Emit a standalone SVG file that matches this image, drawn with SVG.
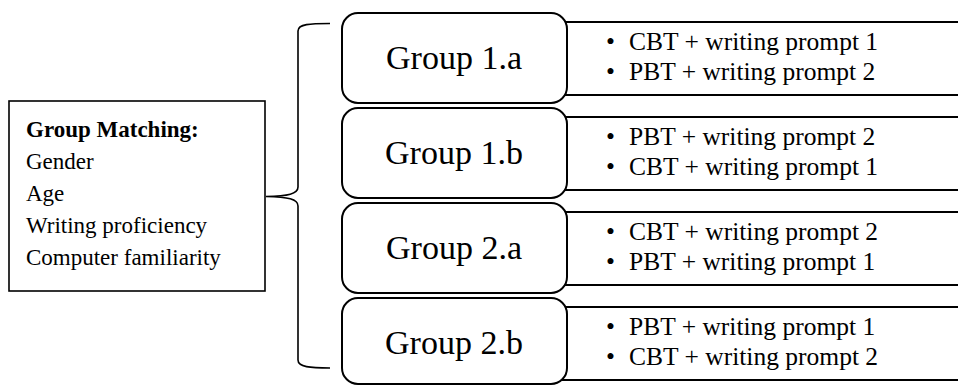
<svg xmlns="http://www.w3.org/2000/svg" width="958" height="385" viewBox="0 0 958 385">
<style>
.box{fill:#fff;stroke:#000;stroke-width:1.6}
.grp{fill:#fff;stroke:#000;stroke-width:2}
.row{fill:#fff;stroke:#000;stroke-width:2}
.brace{fill:none;stroke:#000;stroke-width:1.6}
text{font-family:"Liberation Serif","Times New Roman",serif;fill:#000}
.gl{font-size:34px;text-anchor:middle}
.bl{font-size:25.5px}
.ml{font-size:23px}
.mb{font-size:23px;font-weight:bold}
</style>
<rect width="958" height="385" fill="#fff"/>
<g id="matching">
<rect class="box" x="9" y="101" width="256" height="190"/>
<text class="mb" x="26" y="137">Group Matching:</text>
<text class="ml" x="26" y="169">Gender</text>
<text class="ml" x="26" y="201">Age</text>
<text class="ml" x="26" y="233">Writing proficiency</text>
<text class="ml" x="26" y="265">Computer familiarity</text>
</g>
<g id="connectors">
<path class="brace" d="M330,23.5 C310,23.5 298,24 298,31 L298,187 C298,194 288,196 266,196.5 C288,197 298,199 298,206 L298,360 C298,367 310,368 330,368"/>
</g>
<g id="row1a"><rect class="row" x="560" y="22" width="420" height="73"/>
<text class="bl" x="606" y="50">•</text><text class="bl" x="629" y="50">CBT + writing prompt 1</text>
<text class="bl" x="606" y="80">•</text><text class="bl" x="629" y="80">PBT + writing prompt 2</text></g>
<g id="row1b"><rect class="row" x="560" y="117" width="420" height="73"/>
<text class="bl" x="606" y="145">•</text><text class="bl" x="629" y="145">PBT + writing prompt 2</text>
<text class="bl" x="606" y="175">•</text><text class="bl" x="629" y="175">CBT + writing prompt 1</text></g>
<g id="row2a"><rect class="row" x="560" y="212" width="420" height="73"/>
<text class="bl" x="606" y="240">•</text><text class="bl" x="629" y="240">CBT + writing prompt 2</text>
<text class="bl" x="606" y="270">•</text><text class="bl" x="629" y="270">PBT + writing prompt 1</text></g>
<g id="row2b"><rect class="row" x="560" y="307" width="420" height="73"/>
<text class="bl" x="606" y="335">•</text><text class="bl" x="629" y="335">PBT + writing prompt 1</text>
<text class="bl" x="606" y="365">•</text><text class="bl" x="629" y="365">CBT + writing prompt 2</text></g>
<g id="group1a"><rect class="grp" x="342" y="13" width="225" height="90" rx="16"/><text class="gl" x="454" y="69">Group 1.a</text></g>
<g id="group1b"><rect class="grp" x="342" y="108" width="225" height="90" rx="16"/><text class="gl" x="454" y="164">Group 1.b</text></g>
<g id="group2a"><rect class="grp" x="342" y="203" width="225" height="90" rx="16"/><text class="gl" x="454" y="259">Group 2.a</text></g>
<g id="group2b"><rect class="grp" x="342" y="298" width="225" height="86" rx="16"/><text class="gl" x="454" y="354">Group 2.b</text></g>
</svg>
